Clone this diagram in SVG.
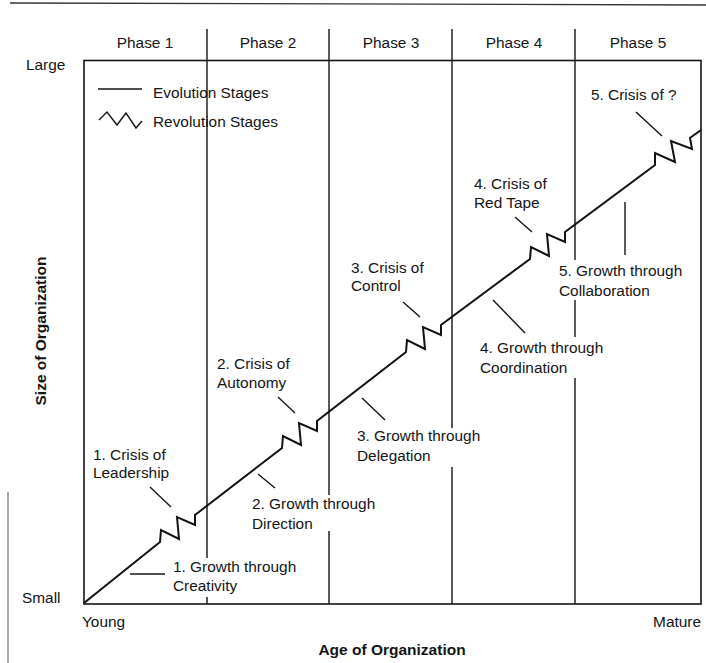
<svg xmlns="http://www.w3.org/2000/svg" width="706" height="663" viewBox="0 0 706 663">
<style>
text{font-family:"Liberation Sans",Arial,sans-serif;font-size:15.4px;fill:#151515}
.b{font-weight:bold}
.m{text-anchor:middle}
.ln{stroke:#151515;stroke-width:1.4;fill:none}
.curve{stroke:#111;stroke-width:2;fill:none;stroke-linejoin:miter}
.box{stroke:#151515;stroke-width:1.6;fill:none}
</style>
<rect width="706" height="663" fill="#fff"/>
<g id="frame">
<line x1="10" y1="3" x2="706" y2="5" stroke="#333" stroke-width="1.3"/>
<line x1="8" y1="492" x2="8" y2="663" stroke="#555" stroke-width="1"/>
<rect class="box" x="84" y="60.5" width="617" height="543.5"/>
</g>
<g id="dividers" class="ln">
<path d="M207,29V558M207,597V604"/>
<path d="M329,29V495M329,531V604"/>
<path d="M452,29V428M452,467V604"/>
<path d="M575,29V260M575,300V337M575,378V604"/>
</g>
<g id="phases">
<text class="m" x="145" y="48">Phase 1</text>
<text class="m" x="268" y="48">Phase 2</text>
<text class="m" x="391" y="48">Phase 3</text>
<text class="m" x="514" y="48">Phase 4</text>
<text class="m" x="638" y="48">Phase 5</text>
</g>
<g id="axes">
<text x="26" y="70">Large</text>
<text x="22" y="603">Small</text>
<text x="82" y="627">Young</text>
<text x="701" y="627" text-anchor="end">Mature</text>
<text class="b m" x="392" y="655" style="font-size:15.5px">Age of Organization</text>
<text class="b m" transform="translate(46,331) rotate(-90)" style="font-size:15.5px">Size of Organization</text>
</g>
<g id="legend">
<line class="ln" x1="98" y1="89" x2="142" y2="89"/>
<text x="153" y="98">Evolution Stages</text>
<polyline class="ln" points="99,120 107,112 117,125 126,113 136,128 142,121"/>
<text x="153" y="127">Revolution Stages</text>
</g>
<g id="growth-curve">
<path class="curve" d="M84,603 L160,542 L161,530 L179,539 L177,517 L195,525 L195,515 L282,448 L283,436 L301,445 L299,423 L317,431 L317,421 L406,352 L407,340 L425,349 L423,327 L441,335 L441,325 L530,259 L531,247 L549,256 L547,234 L565,242 L565,232 L655,165 L655,153 L675,162 L671,141 L692,149 L690,138 L701,130"/>
</g>
<g id="connectors" class="ln">
<line x1="150" y1="487" x2="171" y2="507"/>
<line x1="130" y1="574" x2="165" y2="574"/>
<line x1="278" y1="397" x2="295" y2="413"/>
<line x1="258" y1="474" x2="275" y2="488"/>
<line x1="403" y1="302" x2="420" y2="317"/>
<line x1="362" y1="398" x2="385" y2="420"/>
<line x1="515" y1="217" x2="532" y2="232"/>
<line x1="493" y1="300" x2="525" y2="333"/>
<line x1="636" y1="112" x2="662" y2="136"/>
<line x1="625" y1="202" x2="625" y2="255"/>
</g>
<g id="crisis1"><text x="93" y="460">1. Crisis of</text><text x="93" y="478">Leadership</text></g>
<g id="growth1"><text x="173" y="572">1. Growth through</text><text x="173" y="591">Creativity</text></g>
<g id="crisis2"><text x="217" y="369">2. Crisis of</text><text x="217" y="387.5">Autonomy</text></g>
<g id="growth2"><text x="252" y="509">2. Growth through</text><text x="252" y="529">Direction</text></g>
<g id="crisis3"><text x="351" y="272.5">3. Crisis of</text><text x="351" y="291">Control</text></g>
<g id="growth3"><text x="357" y="441">3. Growth through</text><text x="357" y="461">Delegation</text></g>
<g id="crisis4"><text x="474" y="189">4. Crisis of</text><text x="474" y="207.5">Red Tape</text></g>
<g id="growth4"><text x="480" y="352.5">4. Growth through</text><text x="480" y="372.5">Coordination</text></g>
<g id="crisis5"><text x="591" y="100">5. Crisis of ?</text></g>
<g id="growth5"><text x="559" y="276">5. Growth through</text><text x="559" y="296">Collaboration</text></g>
</svg>
